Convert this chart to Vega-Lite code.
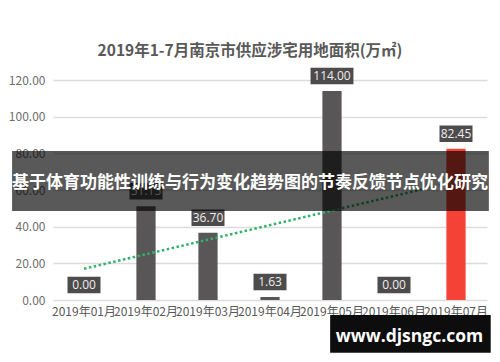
{
  "$schema": "https://vega.github.io/schema/vega-lite/v6.json",
  "width": 434,
  "height": 220,
  "autosize": {"type": "none"},
  "padding": {"left": 53, "top": 80, "right": 13, "bottom": 62},
  "background": "white",
  "config": {
    "view": {"stroke": null},
    "font": "Noto Sans CJK SC",
    "axisY": {
      "tickCount": 7,
      "labelOverlap": false,
      "domain": false,
      "ticks": false,
      "labelFontSize": 12,
      "labelColor": "#6e6e6e",
      "labelPadding": 8,
      "gridColor": "#dcdcdc",
      "gridWidth": 1.5,
      "title": null
    }
  },
  "title": {
    "text": "2019年1-7月南京市供应涉宅用地面积(万㎡)",
    "fontSize": 15.5,
    "fontWeight": "bold",
    "color": "#595959",
    "font": "Noto Sans CJK SC",
    "anchor": "middle",
    "dx": -20,
    "offset": 8
  },
  "datasets": {
    "main": [
      {"month": "2019年01月", "m": 1, "value": 0},
      {"month": "2019年02月", "m": 2, "value": 51.15},
      {"month": "2019年03月", "m": 3, "value": 36.7},
      {"month": "2019年04月", "m": 4, "value": 1.63},
      {"month": "2019年05月", "m": 5, "value": 114},
      {"month": "2019年06月", "m": 6, "value": 0},
      {"month": "2019年07月", "m": 7, "value": 82.45}
    ],
    "banner": [{"text": "基于体育功能性训练与行为变化趋势图的节奏反馈节点优化研究"}],
    "mark": [{"text": "www.djsngc.com"}]
  },
  "resolve": {"scale": {"x": "independent"}},
  "layer": [
    {
      "data": {"name": "main"},
      "layer": [
        {
          "mark": {"type": "bar"},
          "encoding": {
            "x": {
              "field": "month",
              "type": "nominal",
              "sort": null,
              "scale": {"paddingInner": 0.69, "paddingOuter": 0.345},
              "axis": {
                "title": null,
                "domain": false,
                "ticks": false,
                "labelAngle": 0,
                "labelOverlap": false,
                "labelBound": false,
                "labelFontSize": 12,
                "labelColor": "#595959",
                "labelPadding": 6,
                "labelFont": "Noto Sans CJK SC"
              }
            },
            "y": {
              "field": "value",
              "type": "quantitative",
              "scale": {"domain": [0, 120], "nice": false},
              "axis": {"format": ".2f", "tickCount": 7, "labelOverlap": false}
            },
            "color": {
              "condition": {"test": "datum.m === 7", "value": "#f44336"},
              "value": "#595657"
            }
          }
        },
        {
          "mark": {
            "type": "point",
            "size": 1089,
            "filled": true,
            "opacity": 1,
            "color": "#4e4b4c",
            "yOffset": -15
          },
          "encoding": {
            "x": {"field": "month", "type": "nominal", "sort": null},
            "y": {"field": "value", "type": "quantitative"},
            "shape": {
              "condition": {"test": "datum.value >= 100", "value": "M-1.3,-0.5H1.3V0.5H-1.3Z"},
              "value": "M-1,-0.5H1V0.5H-1Z"
            }
          }
        },
        {
          "mark": {
            "type": "text",
            "color": "#eeeeee",
            "fontSize": 12,
            "font": "Open Sans",
            "baseline": "middle",
            "yOffset": -15
          },
          "encoding": {
            "x": {"field": "month", "type": "nominal", "sort": null},
            "y": {"field": "value", "type": "quantitative"},
            "text": {"field": "value", "type": "quantitative", "format": ".2f"}
          }
        }
      ]
    },
    {
      "layer": [
        {
          "data": {"name": "main"},
          "transform": [
            {"regression": "value", "on": "m", "extent": [1, 7]}
          ],
          "mark": {
            "type": "line",
            "color": "#2fb26a",
            "strokeWidth": 2.5,
            "strokeDash": [2.5, 2.5]
          },
          "encoding": {
            "x": {
              "field": "m",
              "type": "quantitative",
              "scale": {"domain": [0.5, 7.5], "nice": false, "zero": false},
              "axis": null
            },
            "y": {"field": "value", "type": "quantitative"}
          }
        },
        {
          "data": {"name": "banner"},
          "mark": {"type": "rect", "color": "black", "opacity": 0.65},
          "encoding": {
            "x": {"datum": -0.16, "type": "quantitative", "scale": {"domain": [0.5, 7.5], "nice": false, "zero": false}, "axis": null},
            "x2": {"datum": 7.53},
            "y": {"datum": 81.3, "type": "quantitative"},
            "y2": {"datum": 48.5}
          }
        },
        {
          "data": {"name": "banner"},
          "mark": {
            "type": "text",
            "color": "white",
            "fontSize": 17,
            "fontWeight": "bold",
            "font": "Noto Sans CJK SC",
            "align": "center",
            "baseline": "middle"
          },
          "encoding": {
            "x": {"datum": 3.677, "type": "quantitative"},
            "y": {"datum": 63.8, "type": "quantitative"},
            "text": {"field": "text"}
          }
        },
        {
          "data": {"name": "mark"},
          "mark": {"type": "rect", "color": "black", "opacity": 0.95},
          "encoding": {
            "x": {"datum": 4.97, "type": "quantitative"},
            "x2": {"datum": 7.56},
            "y": {"datum": -8.2, "type": "quantitative"},
            "y2": {"datum": -28.8}
          }
        },
        {
          "data": {"name": "mark"},
          "mark": {
            "type": "text",
            "color": "white",
            "fontSize": 17.5,
            "fontWeight": "bold",
            "font": "Open Sans",
            "align": "center",
            "baseline": "middle"
          },
          "encoding": {
            "x": {"datum": 6.25, "type": "quantitative"},
            "y": {"datum": -20, "type": "quantitative"},
            "text": {"field": "text"}
          }
        }
      ]
    }
  ]
}
